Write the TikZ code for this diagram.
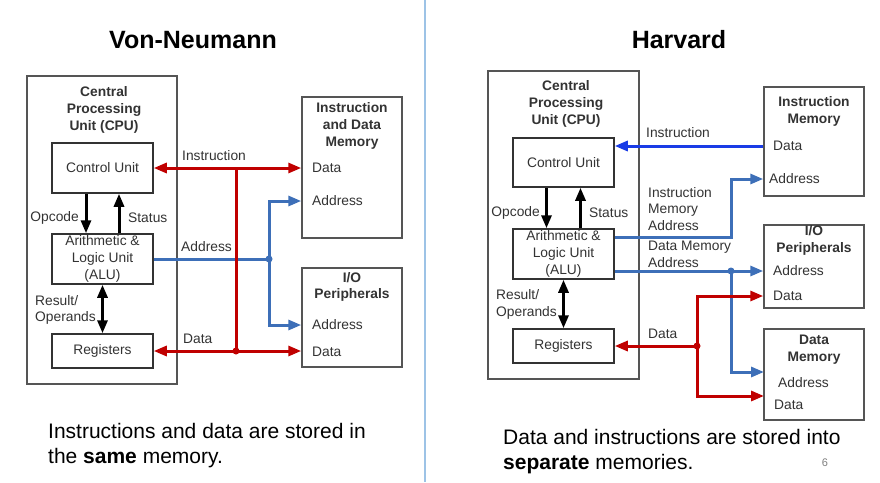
\documentclass[tikz,border=0pt]{standalone}
\usepackage{fontspec}
\setmainfont{Liberation Sans}
\usetikzlibrary{arrows.meta, calc, positioning}
\definecolor{busRed}{HTML}{C00000}
\definecolor{busBlue}{HTML}{3D6FB8}
\definecolor{insBlue}{HTML}{1A3CE6}
\definecolor{boxGrey}{HTML}{555555}
\definecolor{txtGrey}{HTML}{333333}
\definecolor{divBlue}{HTML}{9DC3E6}
\newcommand{\lblsize}{\fontsize{13.8}{16.8}\selectfont}
\tikzset{
  >={Triangle[length=13pt, width=10pt]},
  paneltitle/.style = {font=\fontsize{25}{30}\selectfont\bfseries, black},
  lbl/.style        = {font=\lblsize, txtGrey, inner sep=0pt, align=left},
  ttl/.style        = {font=\lblsize\bfseries, txtGrey, inner sep=0pt, align=center},
  unitbox/.style    = {draw=black!80, line width=1.5pt, minimum width=101, minimum height=50,
                       inner sep=0pt, font=\lblsize, txtGrey, align=center},
  cpubox/.style     = {draw=boxGrey, line width=1.7pt, minimum width=150, minimum height=308},
  membox/.style     = {draw=boxGrey, line width=1.5pt, minimum width=100},
  ctrlarrow/.style  = {->, line width=3pt, black},
  redbus/.style     = {busRed, line width=3pt},
  bluebus/.style    = {busBlue, line width=3pt},
  insbus/.style     = {insBlue, line width=3pt},
  bottomtxt/.style  = {font=\fontsize{21}{25}\selectfont, black, inner sep=0pt, align=left},
}
\begin{document}
\begin{tikzpicture}[x=1pt, y=-1pt]
  \fill[white] (0,0) rectangle (880,482);
  \useasboundingbox (0,0) rectangle (880,482);
  \draw[divBlue, line width=2pt] (425,0) -- (425,482);

  % ---------------- Von-Neumann ----------------
  \node[paneltitle] (vntitle) at (193,40) {Von-Neumann};
  \node[cpubox] (vncpu) at (102,230) {};
  \node[ttl] (vncputtl) at (104,110) {Central\\Processing\\Unit (CPU)};
  \node[unitbox] (vncu)  at (102.5,168) {Control Unit};
  \node[unitbox] (vnalu) at (102.5,259) {Arithmetic \&\\Logic Unit\\(ALU)};
  \node[unitbox, minimum height=34] (vnreg) at (102.5,351) {Registers};

  \draw[ctrlarrow] ([xshift=-16.5]vncu.south) -- ([xshift=-16.5]vnalu.north);
  \draw[ctrlarrow] ([xshift=16.5]vnalu.north) -- ([xshift=16.5]vncu.south);
  \draw[ctrlarrow, <->] (vnalu.south) -- (vnreg.north);
  \node[lbl, anchor=east] (vnopc) at (79,218) {Opcode};
  \node[lbl, anchor=west] (vnsta) at (128,218) {Status};
  \node[lbl, anchor=west] (vnres) at (35,310) {Result/\\Operands};

  \node[membox, minimum height=141] (vnmem) at (352,167.5) {};
  \node[ttl] (vnmemttl) at (352,126) {Instruction\\and Data\\Memory};
  \node[lbl, anchor=west] (vnmemdat) at (312,168) {Data};
  \node[lbl, anchor=west] (vnmemadr) at (312,201) {Address};

  \node[membox, minimum height=99] (vnio) at (352,317.5) {};
  \node[ttl] (vniottl) at (352,287) {I/O\\Peripherals};
  \node[lbl, anchor=west] (vnioadr) at (312,325) {Address};
  \node[lbl, anchor=west] (vniodat) at (312,352) {Data};

  % address bus
  \coordinate (vnsplit) at (269,259);
  \draw[bluebus] (vnalu.east) -- (vnsplit);
  \draw[bluebus, ->] (vnsplit) |- (vnmem.west |- vnmemadr);
  \draw[bluebus, ->] (vnsplit) |- (vnio.west |- vnioadr);
  \fill[busBlue] (vnsplit) circle (3.5pt);

  % shared instruction / data bus
  \coordinate (vnjoin) at (236,351);
  \draw[redbus, <->] (vncu.east) -- (vnmem.west |- vncu.east);
  \draw[redbus, <->] (vnreg.east) -- (vnio.west |- vnreg.east);
  \draw[redbus] (vnjoin |- vncu.east) -- (vnjoin);
  \fill[busRed] (vnjoin) circle (3.5pt);

  \node[lbl, anchor=west] (vninslbl) at (182,156) {Instruction};
  \node[lbl, anchor=west] (vnadrlbl) at (181,247) {Address};
  \node[lbl, anchor=west] (vndatlbl) at (183,339) {Data};

  \node[bottomtxt, anchor=west] (vnnote) at (48,445.5)
    {Instructions and data are stored in\\the \textbf{same} memory.};

  % ---------------- Harvard ----------------
  \node[paneltitle] (hvtitle) at (679,40) {Harvard};
  \node[cpubox, minimum width=151] (hvcpu) at (563.5,225) {};
  \node[ttl] (hvcputtl) at (566,104) {Central\\Processing\\Unit (CPU)};
  \node[unitbox, minimum height=49] (hvcu) at (563.5,162.5) {Control Unit};
  \node[unitbox] (hvalu) at (563.5,254) {Arithmetic \&\\Logic Unit\\(ALU)};
  \node[unitbox, minimum height=34] (hvreg) at (563.5,346) {Registers};

  \draw[ctrlarrow] ([xshift=-17]hvcu.south) -- ([xshift=-17]hvalu.north);
  \draw[ctrlarrow] ([xshift=17]hvalu.north) -- ([xshift=17]hvcu.south);
  \draw[ctrlarrow, <->] (hvalu.south) -- (hvreg.north);
  \node[lbl, anchor=east] (hvopc) at (540,213) {Opcode};
  \node[lbl, anchor=west] (hvsta) at (589,213) {Status};
  \node[lbl, anchor=west] (hvres) at (496,304.5) {Result/\\Operands};

  \node[membox, minimum height=109] (hvimem) at (814,141.5) {};
  \node[ttl] (hvimttl) at (814,111.5) {Instruction\\Memory};
  \node[lbl, anchor=west] (hvimdat) at (773,146) {Data};
  \node[lbl, anchor=west] (hvimadr) at (769,179) {Address};

  \node[membox, minimum height=83] (hvio) at (814,266.5) {};
  \node[ttl] (hviottl) at (814,240.5) {I/O\\Peripherals};
  \node[lbl, anchor=west] (hvioadr) at (773,271) {Address};
  \node[lbl, anchor=west] (hviodat) at (773,296) {Data};

  \node[membox, minimum height=91] (hvdmem) at (814,374.5) {};
  \node[ttl] (hvdmttl) at (814,350) {Data\\Memory};
  \node[lbl, anchor=west] (hvdmadr) at (778,383) {Address};
  \node[lbl, anchor=west] (hvdmdat) at (774,405) {Data};

  % instruction bus
  \draw[insbus, ->] (hvimem.west |- hvimdat) -- (hvcu.east |- hvimdat);

  % address buses
  \coordinate (hvimbend) at (731,237);
  \coordinate (hvsplit) at (731,271);
  \coordinate (hvdmin) at (764,372);
  \draw[bluebus, ->] ([yshift=17]hvalu.east) -- (hvimbend) |- (hvimem.west |- hvimadr);
  \draw[bluebus, ->] ([yshift=-17]hvalu.east) -- (hvio.west |- hvioadr);
  \draw[bluebus, ->] (hvsplit) |- (hvdmin);
  \fill[busBlue] (hvsplit) circle (3.5pt);

  % data bus
  \coordinate (hvjoin) at (697,346);
  \coordinate (hvdmdin) at (764,396);
  \draw[redbus, ->] (hvjoin) -- (hvreg.east);
  \draw[redbus, ->] (hvjoin) |- (hvio.west |- hviodat);
  \draw[redbus, ->] (hvjoin) |- (hvdmdin);
  \fill[busRed] (hvjoin) circle (3.5pt);

  \node[lbl, anchor=west] (hvinslbl) at (646,133) {Instruction};
  \node[lbl, anchor=west] (hvimalbl) at (648,209) {Instruction\\Memory\\Address};
  \node[lbl, anchor=west] (hvdmalbl) at (648,254.5) {Data Memory\\Address};
  \node[lbl, anchor=west] (hvdatlbl) at (648,334) {Data};

  \node[bottomtxt, anchor=west] (hvnote) at (503,451.5)
    {Data and instructions are stored into\\\textbf{separate} memories.};
  \node[font=\fontsize{11}{13}\selectfont, gray, inner sep=0pt] (pageno) at (825,463) {6};
\end{tikzpicture}
\end{document}
